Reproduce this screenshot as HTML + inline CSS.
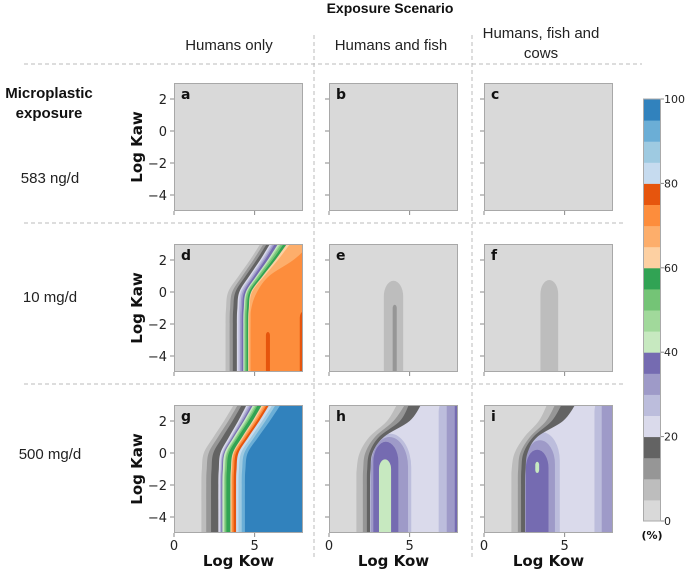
<!DOCTYPE html>
<html><head><meta charset="utf-8"><style>
body{margin:0;background:#fff;}
svg{display:block;font-family:"DejaVu Sans","Liberation Sans",sans-serif;}
.hdr{font-family:"Liberation Sans",sans-serif;font-size:15px;fill:#222;}
</style></head><body>
<svg id="fig" width="685" height="569" viewBox="0 0 685 569" xmlns="http://www.w3.org/2000/svg">
<g id="static">
<text x="390" y="13" text-anchor="middle" font-family="Liberation Sans" font-weight="bold" font-size="14" fill="#111">Exposure Scenario</text>
<text class="hdr" x="229" y="50" text-anchor="middle">Humans only</text>
<text class="hdr" x="391" y="50" text-anchor="middle">Humans and fish</text>
<text class="hdr" x="541" y="38" text-anchor="middle">Humans, fish and</text>
<text class="hdr" x="541" y="58" text-anchor="middle">cows</text>
<text x="49" y="98" text-anchor="middle" font-family="Liberation Sans" font-weight="bold" font-size="15" fill="#111">Microplastic</text>
<text x="49" y="118" text-anchor="middle" font-family="Liberation Sans" font-weight="bold" font-size="15" fill="#111">exposure</text>
<text class="hdr" x="50" y="183" text-anchor="middle">583 ng/d</text>
<text class="hdr" x="50" y="302" text-anchor="middle">10 mg/d</text>
<text class="hdr" x="50" y="459" text-anchor="middle">500 mg/d</text>
<g stroke="#bbb" stroke-width="1" stroke-dasharray="4,3" fill="none">
<line x1="24" y1="64" x2="642" y2="64"/>
<line x1="24" y1="223" x2="624" y2="223"/>
<line x1="24" y1="384" x2="624" y2="384"/>
<line x1="314" y1="35" x2="314" y2="560"/>
<line x1="472" y1="35" x2="472" y2="560"/>
</g>
</g>
<g id="panels"></g>
<g id="cbar"></g>
</svg>
<script>
// ---- data ----
const colors = ["#d9d9d9","#bdbdbd","#969696","#636363","#dadaeb","#bcbddc","#9e9ac8","#756bb1","#c7e9c0","#a1d99b","#74c476","#31a354","#fdd0a2","#fdae6b","#fd8d3c","#e6550d","#c6dbef","#9ecae1","#6baed6","#3182bd"];
const cbarTicks = [0,20,40,60,80,100];
const kawSamples = [-5,-2,-1,0,1,2,3];
const panelLetters = ["a","b","c","d","e","f","g","h","i"];
// boundary levels per panel (region >= level lies right of boundary)
const levelsD = [5,10,15,20,25,30,35,40,45,50,55,60,65,70];
const boundsD = [
[3.2,3.2,3.23,3.36,4.01,4.71,5.35],[3.45,3.45,3.48,3.61,4.24,4.92,5.55],[3.65,3.65,3.68,3.81,4.44,5.12,5.75],
[3.9,3.9,3.93,4.05,4.67,5.34,5.95],[4.0,4.0,4.03,4.15,4.77,5.44,6.05],[4.1,4.1,4.13,4.25,4.87,5.54,6.15],
[4.2,4.2,4.23,4.35,4.97,5.64,6.25],[4.3,4.3,4.33,4.46,5.11,5.81,6.45],[4.35,4.35,4.38,4.52,5.18,5.89,6.55],
[4.4,4.4,4.43,4.57,5.24,5.98,6.65],[4.5,4.5,4.53,4.67,5.36,6.11,6.8],[4.6,4.6,4.64,4.78,5.5,6.28,7.0],
[4.65,4.65,4.69,4.84,5.61,6.44,7.2],[4.75,4.75,4.8,5.15,5.9,7.4,8.5]];
const levelsG = [5,10,15,20,25,30,35,40,45,50,55,60,65,70,75,80,85,90,95];
const boundsG = [
[1.7,1.7,1.73,1.85,2.45,3.1,3.7],[2.0,2.0,2.03,2.15,2.73,3.37,3.95],[2.3,2.3,2.33,2.44,3.01,3.63,4.2],
[2.75,2.75,2.78,2.88,3.41,3.98,4.5],[2.85,2.85,2.88,2.98,3.51,4.08,4.6],[2.9,2.9,2.93,3.04,3.58,4.16,4.7],
[2.95,2.95,2.98,3.09,3.64,4.25,4.8],[3.0,3.0,3.03,3.14,3.71,4.33,4.9],[3.1,3.1,3.13,3.24,3.81,4.43,5.0],
[3.15,3.15,3.18,3.3,3.88,4.52,5.1],[3.25,3.25,3.28,3.4,3.98,4.62,5.2],[3.5,3.5,3.53,3.65,4.23,4.87,5.45],
[3.55,3.55,3.58,3.7,4.3,4.95,5.55],[3.6,3.6,3.63,3.75,4.37,5.04,5.65],[3.7,3.7,3.73,3.85,4.47,5.14,5.75],
[3.85,3.85,3.88,4.0,4.62,5.29,5.9],[4.0,4.0,4.03,4.16,4.79,5.47,6.1],[4.2,4.2,4.23,4.36,4.99,5.67,6.3],
[4.4,4.4,4.43,4.57,5.23,5.94,6.6]];
const levelsH = [5,10,15,20];
const boundsH = [[1.7,1.7,1.72,1.9,2.5,3.6,4.2],[2.1,2.1,2.12,2.25,2.85,4.0,4.7],[2.35,2.35,2.37,2.5,3.1,4.4,4.95],[2.55,2.55,2.58,2.7,3.4,5.0,5.7]];
const levelsI = [5,10,15,20];
const boundsI = [[1.7,1.7,1.72,1.9,2.5,3.4,3.9],[2.1,2.1,2.12,2.25,2.85,3.85,4.4],[2.3,2.3,2.32,2.45,3.05,4.2,4.8],[2.55,2.55,2.58,2.7,3.3,4.9,5.65]];
// blobs: [level, leftKow, rightKow, bottomKaw, topKaw]
const blobsD = [[75,5.7,5.95,-5,-2.5],[75,7.8,8.3,-5,-1.2]];
const blobsE = [[5,3.4,4.6,-5,0.7],[10,3.95,4.2,-5,-0.8]];
const blobsF = [[5,3.5,4.6,-5,0.75]];
const blobsH = [[25,2.5,5.1,-5,1.2],[30,2.6,4.9,-5,1.0],[35,2.75,4.3,-5,0.7],[40,3.1,3.85,-5,-0.4],[25,6.8,8,-5,3.5],[30,7.3,8,-5,3.5],[35,7.8,8,-5,3.5]];
const blobsI = [[25,2.5,4.7,-5,1.3],[30,2.55,4.4,-5,0.8],[35,2.6,4.0,-5,0.2],[40,3.18,3.42,-1.25,-0.55],[25,6.85,8,-5,3.5],[30,7.3,8,-5,3.5]];

// ---- layout ----
const colX = [174,329,484], rowY = [83,244,405], PW = 129, PH = 128;
const NS = "http://www.w3.org/2000/svg";
function mk(tag, attrs, parent){const e=document.createElementNS(NS,tag);for(const k in attrs)e.setAttribute(k,attrs[k]);if(parent)parent.appendChild(e);return e;}
const panelsG = document.getElementById('panels');
const colorOf = lvl => colors[Math.min(19, Math.round(lvl/5))];

function drawPanel(idx, fillLevel, levels, bounds, blobs){
  const c = idx%3, r = Math.floor(idx/3);
  const x0 = colX[c], y0 = rowY[r];
  const xs = k => x0 + k*PW/8;
  const ys = a => y0 + (3-a)*PH/8;
  const g = mk('g',{},panelsG);
  
  
  const cp = mk('clipPath',{id:'clip'+idx},g);
  mk('rect',{x:x0,y:y0,width:PW,height:PH},cp);
  const body = mk('g',{'clip-path':'url(#clip'+idx+')'},g);
  const bg = mk('rect',{x:x0,y:y0,width:PW,height:PH,fill:colorOf(fillLevel)},body);
  
  
  // blobs
  blobs.forEach(b=>{
    const [lvl,l,rr,bot,top]=b;
    const L=xs(l),R=xs(rr),T=ys(top),B=ys(bot);
    const rx=(R-L)/2, ry=Math.min(rx*1.6,(B-T)/2);
    let d='M'+L+','+(bot>-5?B-ry:B+2)+' L'+L+','+(T+ry)+' A'+rx+','+ry+' 0 0 1 '+R+','+(T+ry);
    if(bot>-5) d+=' L'+R+','+(B-ry)+' A'+rx+','+ry+' 0 0 1 '+L+','+(B-ry)+' Z';
    else d+=' L'+R+','+(B+2)+' Z';
    const p=mk('path',{d:d,fill:colorOf(lvl)},body);
    
    
  });
  // left-fill polygons, descending
  for(let k=levels.length-1;k>=0;k--){
    const pts = kawSamples.map((a,i)=>[xs(bounds[k][i]), ys(a)]);
    let d='M'+(x0-2)+','+(ys(-5)+2)+' L'+pts[0][0]+','+(ys(-5)+2)+' L'+pts[0][0]+','+pts[0][1];
    for(let i=0;i<pts.length-1;i++){
      const p0=pts[Math.max(0,i-1)],p1=pts[i],p2=pts[i+1],p3=pts[Math.min(pts.length-1,i+2)];
      const c1=[p1[0]+(p2[0]-p0[0])/6,p1[1]+(p2[1]-p0[1])/6];
      const c2=[p2[0]-(p3[0]-p1[0])/6,p2[1]-(p3[1]-p1[1])/6];
      d+=' C'+c1[0]+','+c1[1]+' '+c2[0]+','+c2[1]+' '+p2[0]+','+p2[1];
    }
    d+=' L'+pts[pts.length-1][0]+','+(y0-2)+' L'+(x0-2)+','+(y0-2)+' Z';
    const lvlBelow = k===0?0:levels[k-1];
    const p=mk('path',{d:d,fill:colorOf(lvlBelow)},body);
    
    
  }
  const fr=mk('rect',{x:x0+0.5,y:y0+0.5,width:PW-1,height:PH-1,fill:'none',stroke:'#a8a8a8','stroke-width':1},g);
  
  
  const lt=mk('text',{x:x0+7,y:y0+16,'font-weight':'bold','font-size':14,fill:'#111'},g);
  
  
  lt.textContent=panelLetters[idx];
  // y ticks
  [2,0,-2,-4].forEach(v=>{
    const t=mk('line',{x1:x0-4,x2:x0,y1:ys(v),y2:ys(v),stroke:'#888','stroke-width':1},g);
    
    
    if(c===0){
      const tl=mk('text',{x:x0-7,y:ys(v)+5,'text-anchor':'end','font-size':13,fill:'#222'},g);
      
      
      tl.textContent=v<0?'\u2212'+(-v):String(v);
    }
  });
  [0,5].forEach(v=>{
    const t=mk('line',{x1:xs(v),x2:xs(v),y1:y0+PH,y2:y0+PH+4,stroke:'#888','stroke-width':1},g);
    
    
    if(r===2){
      const tl=mk('text',{x:xs(v),y:y0+PH+17,'text-anchor':'middle','font-size':13,fill:'#222'},g);
      
      
      tl.textContent=String(v);
    }
  });
  if(c===0){
    const yl=mk('text',{x:0,y:0,transform:'translate('+(x0-32)+','+(y0+PH/2)+') rotate(-90)','text-anchor':'middle','font-weight':'bold','font-size':15,fill:'#111'},g);
    
    
    yl.textContent='Log Kaw';
  }
  if(r===2){
    const xl=mk('text',{x:x0+PW/2,y:y0+PH+33,'text-anchor':'middle','font-weight':'bold','font-size':15,fill:'#111'},g);
    
    
    xl.textContent='Log Kow';
  }
}
drawPanel(0,0,[],[],[]);
drawPanel(1,0,[],[],[]);
drawPanel(2,0,[],[],[]);
drawPanel(3,70,levelsD,boundsD,blobsD);
drawPanel(4,0,[],[],blobsE);
drawPanel(5,0,[],[],blobsF);
drawPanel(6,95,levelsG,boundsG,[]);
drawPanel(7,20,levelsH,boundsH,blobsH);
drawPanel(8,20,levelsI,boundsI,blobsI);

// colorbar
const cb=document.getElementById('cbar');
const cbX=643, cbW=18, cbTop=99, cbBot=521;
const cy = v => cbBot - (v/100)*(cbBot-cbTop);
colors.forEach((col,i)=>{
  const r=mk('rect',{x:cbX,y:cy((i+1)*5),width:cbW,height:cy(i*5)-cy((i+1)*5)+0.5,fill:col},cb);
  
  
});
const cbf=mk('rect',{x:cbX+0.5,y:cbTop,width:cbW-1,height:cbBot-cbTop,fill:'none',stroke:'#aaa','stroke-width':1},cb);


cbarTicks.forEach(v=>{
  mk('line',{x1:cbX+cbW,x2:cbX+cbW+3,y1:cy(v),y2:cy(v),stroke:'#888'},cb);
  const t=mk('text',{x:cbX+cbW+3,y:cy(v)+4,'font-size':11,fill:'#222'},cb);
  
  
  t.textContent=String(v);
});
const pl=mk('text',{x:cbX+cbW/2,y:539,'text-anchor':'middle','font-weight':'bold','font-size':11,fill:'#111'},cb);


pl.textContent='(%)';
</script>
</body></html>
